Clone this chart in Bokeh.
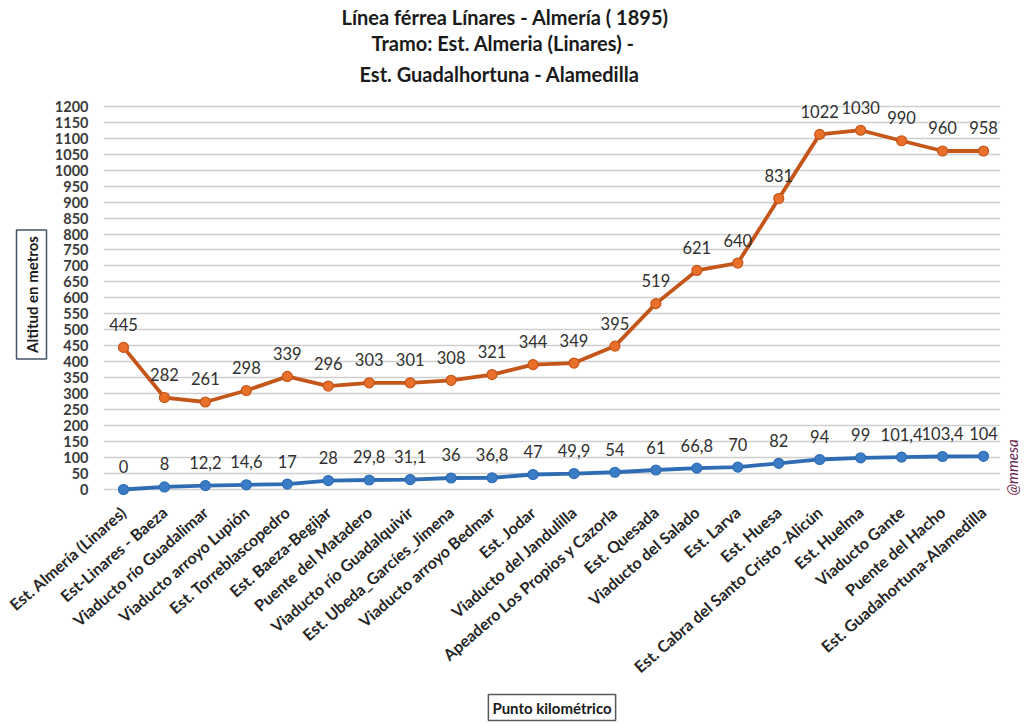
import math
from bokeh.plotting import figure
from bokeh.models import Range1d, FixedTicker, LabelSet, ColumnDataSource, Title, LinearAxis
from bokeh.core.properties import value
from bokeh.embed import file_html
from bokeh.resources import INLINE

categorias = [
    "Est. Almería (Linares)", "Est-Linares - Baeza", "Viaducto río Guadalimar",
    "Viaducto arroyo Lupión", "Est. Torreblascopedro", "Est. Baeza-Begijar",
    "Puente del Matadero", "Viaducto río Guadalquivir", "Est. Ubeda_Garcíes_Jimena",
    "Viaducto arroyo Bedmar", "Est. Jodar", "Viaducto del Jandulilla",
    "Apeadero Los Propios y Cazorla", "Est. Quesada", "Viaducto del Salado",
    "Est. Larva", "Est. Huesa", "Est. Cabra del Santo Cristo -Alicún",
    "Est. Huelma", "Viaducto Gante", "Puente del Hacho", "Est. Guadahortuna-Alamedilla",
]
# altitude labels as printed, and altitude as drawn in the picture
altitud_etiqueta = [445, 282, 261, 298, 339, 296, 303, 301, 308, 321, 344, 349,
                    395, 519, 621, 640, 831, 1022, 1030, 990, 960, 958]
altitud_trazada = [445, 288, 274, 310, 354, 324, 334, 334, 342, 360, 391, 396,
                   449, 582, 686, 709, 911, 1112, 1125, 1092, 1060, 1060]
punto_km = [0, 8, 12.2, 14.6, 17, 28, 29.8, 31.1, 36, 36.8, 47, 49.9, 54, 61,
            66.8, 70, 82, 94, 99, 101.4, 103.4, 104]
y_ticks = list(range(0, 1201, 50))
titulo = ["Línea férrea Línares - Almería ( 1895)",
          "Tramo: Est. Almeria (Linares) -",
          "Est. Guadalhortuna - Alamedilla"]
marca = "@mmesa"

FONT = "Lato"
x = list(range(len(categorias)))


def fmt(v):
    return ("%g" % v).replace(".", ",")


src_alt = ColumnDataSource(dict(x=x, y=altitud_trazada, t=[str(v) for v in altitud_etiqueta]))
src_km = ColumnDataSource(dict(x=x, y=punto_km, t=[fmt(v) for v in punto_km]))

Y0, Y1 = -18.8, 1240
p = figure(width=1035, height=727, output_backend="svg", toolbar_location=None,
           x_range=Range1d(-0.4884, 21.415), y_range=Range1d(Y0, Y1),
           min_border_left=103, min_border_right=35, min_border_top=93,
           min_border_bottom=232, title=None)
p.outline_line_color = None
p.background_fill_color = "white"
p.border_fill_color = "white"
p.xgrid.grid_line_color = None
p.ygrid.grid_line_color = "#cfcfcf"
p.ygrid.grid_line_width = 1.4

p.yaxis.ticker = FixedTicker(ticks=y_ticks)
p.yaxis.axis_line_color = None
p.yaxis.major_tick_line_color = None
p.yaxis.minor_tick_line_color = None
p.yaxis.major_tick_out = 0
p.yaxis.major_tick_in = 0
p.yaxis.major_label_standoff = 15
p.yaxis.major_label_text_font = FONT
p.yaxis.major_label_text_font_style = "bold"
p.yaxis.major_label_text_font_size = "14.5px"
p.yaxis.major_label_text_color = "#3a3a3a"

p.xaxis.ticker = FixedTicker(ticks=x)
p.xaxis.major_label_overrides = {i: c for i, c in zip(x, categorias)}
p.xaxis.major_label_orientation = math.radians(41)
p.xaxis.axis_line_color = None
p.xaxis.major_tick_line_color = None
p.xaxis.minor_tick_line_color = None
p.xaxis.major_tick_out = 0
p.xaxis.major_tick_in = 0
p.xaxis.major_label_standoff = 14
p.xaxis.major_label_text_font = FONT
p.xaxis.major_label_text_font_style = "bold"
p.xaxis.major_label_text_font_size = "16px"
p.xaxis.major_label_text_color = "#262626"

# series
p.line("x", "y", source=src_alt, line_color="#c4561a", line_width=3.8)
p.scatter("x", "y", source=src_alt, size=10, fill_color="#e8702a", line_color="#c4561a", line_width=1.2)
p.line("x", "y", source=src_km, line_color="#2e6db4", line_width=3.8)
p.scatter("x", "y", source=src_km, size=10, fill_color="#3a7cc6", line_color="#2e6db4", line_width=1.2)

for src in (src_alt, src_km):
    p.add_layout(LabelSet(x="x", y="y", text="t", source=src, y_offset=23,
                          text_align="center", text_baseline="middle",
                          text_font=value(FONT), text_font_size=value("16.5px"),
                          text_color=value("#303030")))

# title lines (later-added titles sit farther from the frame)
title_offsets = [238, 268, 256]
title_standoffs = [0, 0, 11]
for line, off, so in reversed(list(zip(titulo, title_offsets, title_standoffs))):
    p.add_layout(Title(text=line, align="left", offset=off, standoff=so, vertical_align="top",
                       text_font=FONT, text_font_style="bold", text_font_size="20px",
                       text_color="#1a1a1a"), "above")

p.add_layout(Title(text="Altitud en metros", align="center", standoff=10,
                   text_font=FONT, text_font_style="bold", text_font_size="15px",
                   text_color="#1a1a1a", border_line_color="#44546a", border_line_width=1.5,
                   background_fill_color="white", padding=6), "left")

p.add_layout(Title(text="Punto kilométrico", align="center", standoff=12,
                   text_font=FONT, text_font_size="15px",
                   text_color="#1a1a1a", border_line_color="#595959", border_line_width=1.5,
                   background_fill_color="white", padding=4), "below")

# watermark near the lower right corner, as the single label of a right axis
wm_pos = Y0 + 0.3
wm_axis = LinearAxis(ticker=FixedTicker(ticks=[wm_pos]),
                     major_label_overrides={wm_pos: marca},
                     major_label_orientation=math.pi / 2,
                     axis_line_color=None, major_tick_line_color=None,
                     minor_tick_line_color=None, major_tick_out=0, major_tick_in=0,
                     major_label_standoff=12,
                     major_label_text_font=FONT, major_label_text_font_style="italic",
                     major_label_text_font_size="15px", major_label_text_color="#6b1f4f")
p.add_layout(wm_axis, "right")

open("out.html", "w").write(file_html(p, INLINE))
